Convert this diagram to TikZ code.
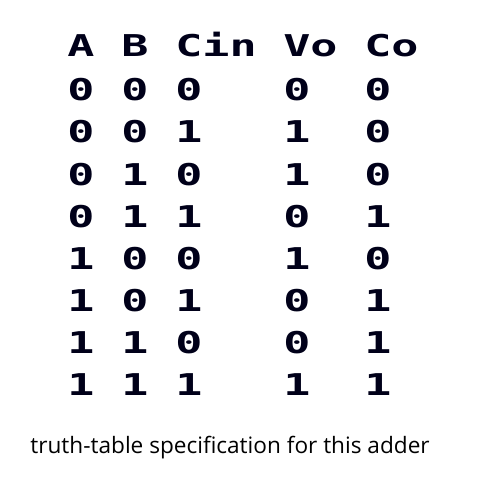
\documentclass[tikz,border=0pt]{standalone}
\usepackage{fontspec}
\setmainfont{Open Sans}
\newfontfamily\tablefont[FakeStretch=1.5]{DejaVu Sans Mono}
\begin{document}
\begin{tikzpicture}[
                x=0.5pt, y=-0.5pt,
                cell/.style={anchor=base west, inner sep=0pt, text=black!90!blue, font=\tablefont\bfseries\fontsize{15}{18}\selectfont},
                caption/.style={anchor=base west, inner sep=0pt, font=\fontsize{11.3}{13}\selectfont}
            ]
                \useasboundingbox (0,0) rectangle (482,486);
                \node[cell] (hA) at (67,57) {A};
                \node[cell] (hB) at (121,57) {B};
                \node[cell] (hCin) at (175,57) {Cin};
                \node[cell] (hVo) at (283,57) {Vo};
                \node[cell] (hCo) at (364,57) {Co};
                
                \foreach \a/\b/\c/\v/\o [count=\r] in {0/0/0/0/0, 0/0/1/1/0, 0/1/0/1/0, 0/1/1/0/1, 1/0/0/1/0, 1/0/1/0/1, 1/1/0/0/1, 1/1/1/1/1} {
                    \node[cell] (a\r) at (67,59+42*\r) {\a};
                    \node[cell] (b\r) at (121,59+42*\r) {\b};
                    \node[cell] (cin\r) at (175,59+42*\r) {\c};
                    \node[cell] (vo\r) at (283,59+42*\r) {\v};
                    \node[cell] (co\r) at (364,59+42*\r) {\o};
                }
                
                \node[caption] (caption) at (30,453) {truth-table specification for this adder};
            \end{tikzpicture}
\end{document}
